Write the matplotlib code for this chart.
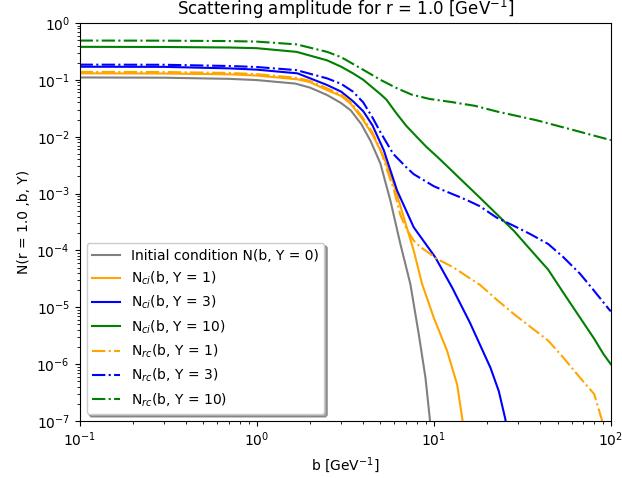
import numpy as np
import matplotlib
matplotlib.use('Agg')
import matplotlib.pyplot as plt

# values
b_init = [0.1, 0.3, 0.7, 1.0, 1.65, 2.0, 2.5, 3.0, 3.4, 3.9, 4.4, 5.0, 5.69, 6.48, 7.38, 8.23, 8.98, 9.49, 9.7]
N_init = [0.11, 0.109, 0.104, 0.099, 0.086, 0.073, 0.054, 0.039, 0.029, 0.0166, 0.0084, 3.36e-3, 7.55e-4, 1.3e-4, 2.56e-5, 3.37e-6, 5.8e-7, 1.14e-7, 5e-8]

b_ci1 = [0.1, 0.3, 0.7, 1.0, 1.7, 2.0, 2.5, 3.0, 3.4, 4.0, 4.5, 5.22, 5.94, 6.77, 7.71, 8.6, 10.0, 11.9, 13.56, 14.47, 14.8]
N_ci1 = [0.13, 0.129, 0.125, 0.119, 0.102, 0.091, 0.066, 0.052, 0.038, 0.0195, 0.011, 4.4e-3, 1.49e-3, 3.84e-4, 9.9e-5, 2.56e-5, 6.6e-6, 1.71e-6, 4.4e-7, 1.14e-7, 6e-8]

b_ci3 = [0.1, 0.3, 0.7, 1.0, 1.7, 2.5, 3.0, 3.5, 4.0, 4.5, 5.22, 6.21, 7.71, 10.2, 12.7, 16.0, 20.9, 23.3, 25.4, 25.7]
N_ci3 = [0.17, 0.169, 0.159, 0.151, 0.13, 0.081, 0.062, 0.042, 0.028, 0.016, 5.8e-3, 1.13e-3, 2.55e-4, 7.6e-5, 2.23e-5, 5.4e-6, 8.7e-7, 3.37e-7, 1.07e-7, 6e-8]

b_ci10 = [0.1, 0.3, 0.7, 1.0, 1.68, 2.5, 3.0, 3.5, 4.0, 5.0, 5.4, 6.2, 7.0, 8.0, 9.1, 10.5, 12.4, 14.0, 18.2, 22.6, 28.4, 35.0, 44.3, 54.0, 67.0, 80.0, 91.0, 100.0]
N_ci10 = [0.38, 0.378, 0.37, 0.36, 0.31, 0.22, 0.17, 0.13, 0.1, 0.056, 0.045, 0.025, 0.0155, 0.01, 6.6e-3, 4.4e-3, 2.68e-3, 1.86e-3, 8.5e-4, 4.4e-4, 2.2e-4, 1.05e-4, 4.6e-5, 1.8e-5, 6.6e-6, 2.9e-6, 1.5e-6, 1e-6]

b_rc1 = [0.1, 0.3, 0.7, 1.0, 1.7, 2.0, 2.5, 3.0, 3.4, 4.0, 4.5, 5.0, 5.45, 5.94, 6.48, 7.0, 7.71, 8.4, 9.18, 10.45, 12.97, 16.1, 18.2, 22.6, 28.4, 44.3, 54.0, 67.0, 80.5, 88.9, 90.0]
N_rc1 = [0.138, 0.137, 0.132, 0.126, 0.108, 0.096, 0.071, 0.055, 0.041, 0.021, 0.012, 6e-3, 2.6e-3, 1.2e-3, 4.2e-4, 2.4e-4, 1.49e-4, 1.15e-4, 9.5e-5, 7.1e-5, 5.0e-5, 3.2e-5, 2.5e-5, 1.38e-5, 7.6e-6, 2.6e-6, 1.3e-6, 5.8e-7, 3e-7, 1.07e-7, 7e-8]

b_rc3 = [0.1, 0.3, 0.7, 1.0, 1.68, 2.5, 3.0, 3.5, 4.0, 4.5, 5.0, 5.9, 7.0, 7.7, 10.0, 10.9, 14.0, 16.1, 18.2, 22.6, 28.4, 35.0, 44.3, 54.0, 67.0, 80.0, 97.5, 100.0]
N_rc3 = [0.185, 0.184, 0.175, 0.168, 0.148, 0.106, 0.085, 0.062, 0.04, 0.022, 0.012, 5e-3, 2.9e-3, 2.2e-3, 1.35e-3, 1.2e-3, 8.7e-4, 7.2e-4, 6e-4, 3.8e-4, 2.7e-4, 1.95e-4, 1.3e-4, 7.6e-5, 3.9e-5, 2e-5, 9.3e-6, 8.5e-6]

b_rc10 = [0.1, 0.3, 0.7, 1.0, 1.68, 2.5, 3.0, 4.0, 5.0, 6.2, 7.5, 9.5, 12.4, 17.0, 23.0, 38.0, 62.0, 80.0, 100.0]
N_rc10 = [0.49, 0.488, 0.48, 0.47, 0.42, 0.31, 0.25, 0.15, 0.1, 0.071, 0.055, 0.046, 0.041, 0.035, 0.0275, 0.0195, 0.013, 0.0105, 0.0087]

fig = plt.figure(figsize=(6.22, 4.78), dpi=100)
fig.subplots_adjust(left=0.128, right=0.982, top=0.952, bottom=0.119)
ax = fig.add_subplot(111)

ax.plot(b_init, N_init, color='grey', label='Initial condition N(b, Y = 0)')
ax.plot(b_ci1, N_ci1, color='orange', label=r'N$_{ci}$(b, Y = 1)')
ax.plot(b_ci3, N_ci3, color='blue', label=r'N$_{ci}$(b, Y = 3)')
ax.plot(b_ci10, N_ci10, color='green', label=r'N$_{ci}$(b, Y = 10)')
ax.plot(b_rc1, N_rc1, color='orange', linestyle='-.', label=r'N$_{rc}$(b, Y = 1)')
ax.plot(b_rc3, N_rc3, color='blue', linestyle='-.', label=r'N$_{rc}$(b, Y = 3)')
ax.plot(b_rc10, N_rc10, color='green', linestyle='-.', label=r'N$_{rc}$(b, Y = 10)')

ax.set_xscale('log')
ax.set_yscale('log')
ax.set_xlim(0.1, 100)
ax.set_ylim(1e-7, 1)
ax.set_xlabel(r'b [GeV$^{-1}$]')
ax.set_ylabel('N(r = 1.0 ,b, Y)')
ax.set_title(r'Scattering amplitude for r = 1.0 [GeV$^{-1}$]')
ax.legend(loc='lower left', shadow=True)

plt.savefig('out.png', dpi=100)
